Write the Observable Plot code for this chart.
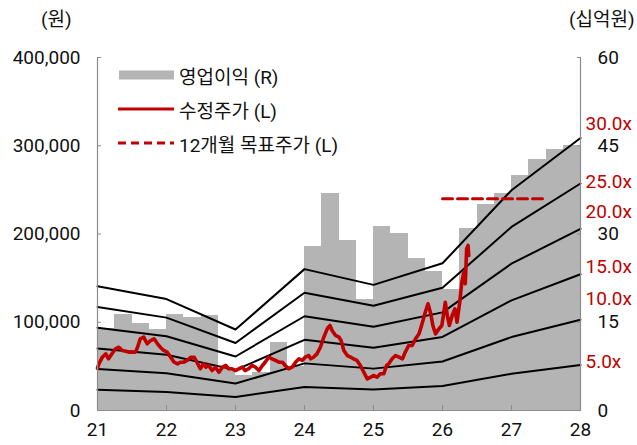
<!DOCTYPE html>
<html>
<head>
<meta charset="utf-8">
<script src="https://cdn.jsdelivr.net/npm/d3@7"></script>
<script src="https://cdn.jsdelivr.net/npm/@observablehq/plot@0.6"></script>
<style>
  body { margin: 0; background: #fff; }
  #chart { position: relative; width: 637px; height: 445px; font-family: Roboto, "Noto Sans CJK KR", sans-serif; color: #111; }
  #chart svg.plot { position: absolute; left: 0; top: 0; }
  .unit { position: absolute; top: 8px; font-size: 19px; line-height: 24px; }
  .legend { position: absolute; left: 118px; top: 58px; font-size: 19px; }
  .legend .row { display: flex; align-items: center; height: 34px; }
  .legend svg { width: 57px; height: 12px; margin-right: 4px; }
</style>
</head>
<body>
<div id="chart">
  <div class="unit" style="left:41px">(원)</div>
  <div class="unit" style="left:569px">(십억원)</div>
  <div class="legend">
    <div class="row"><svg><rect x="1" y="1.5" width="55" height="9" fill="#b4b4b4"/></svg>영업이익 (R)</div>
    <div class="row"><svg><line x1="0" x2="56" y1="6" y2="6" stroke="#c00000" stroke-width="3"/></svg>수정주가 (L)</div>
    <div class="row"><svg><line x1="0" x2="56" y1="6" y2="6" stroke="#c00000" stroke-width="3" stroke-dasharray="8,5"/></svg>12개월 목표주가 (L)</div>
  </div>
</div>
<script>
// Year ticks on the x axis (20xx)
const years = [21, 22, 23, 24, 25, 26, 27, 28];
// EPS (원) behind the PER band lines, one value per year
const eps = [4690, 4210, 3060, 5340, 4745, 5560, 8320, 10290];
const multiples = [5, 10, 15, 20, 25, 30];
const multipleLabels = ["5.0x", "10.0x", "15.0x", "20.0x", "25.0x", "30.0x"];

// Quarterly operating profit (십억원), 1Q21 ... 4Q27
const opProfit = [14.0, 16.3, 14.8, 13.7, 16.4, 15.8, 16.1, 7.0,
                  6.0, 6.5, 11.5, 7.5, 27.8, 36.8, 28.9, 18.8,
                  31.2, 30.1, 25.8, 23.7, 20.5, 30.9, 35.0, 36.9,
                  39.9, 42.6, 44.3, 45.0];

// Adjusted share price (원)
const priceYear = [21.00,21.02,21.07,21.12,21.16,21.21,21.26,21.31,21.36,21.41,
  21.45,21.50,21.55,21.58,21.62,21.67,21.72,21.77,21.82,21.87,
  21.91,21.96,22.01,22.06,22.11,22.16,22.20,22.25,22.30,22.35,
  22.40,22.44,22.49,22.54,
  22.57,22.61,22.66,22.71,22.76,22.81,22.86,22.90,22.95,23.00,
  23.05,23.10,23.14,23.19,23.24,23.29,23.34,23.39,23.43,23.48,
  23.53,23.58,23.63,23.68,23.72,23.77,23.82,23.87,23.92,23.97,
  24.01,24.06,
  24.09,24.13,24.18,24.23,24.28,24.33,24.37,24.40,24.45,24.50,
  24.53,24.57,24.62,24.67,24.71,24.76,24.81,24.86,24.91,24.96,
  25.00,25.05,25.10,25.15,25.19,25.22,25.27,25.32,25.37,25.42,
  25.46,25.51,
  25.56,25.61,25.66,25.71,25.75,25.79,25.83,25.86,25.90,25.95,
  25.99,26.02,26.04,26.07,26.10,26.14,26.18,26.21,26.25,26.28,
  26.31,26.33,26.35,26.37,26.38];
const price = [48000,52900,60400,64200,58600,64200,69900,71700,68000,67200,
  66100,66100,66100,71700,81200,83100,75600,79300,81200,75600,
  71700,68000,66100,60400,54700,52900,54700,54700,56700,60400,
  60400,54700,47300,52900,
  49100,51000,45300,49100,43400,49100,51000,47300,47300,45300,
  47300,49100,45300,47300,51000,49100,45300,51000,54700,60400,
  58600,56700,54700,54700,51000,47300,49100,54700,58600,56700,
  60400,62300,
  58600,60400,64200,71700,83100,92600,96300,90600,85000,83100,
  79300,68000,62300,60400,58600,56700,51000,43400,35900,37700,
  39700,37700,41600,41600,51000,52900,58600,62300,60400,58600,
  66100,73700,
  73700,81200,86900,100100,111400,120900,109600,96300,86900,92600,
  96300,111400,122700,107600,96300,107600,115200,100100,122700,145400,
  156700,143600,183200,187000,175600];

// 12-month target price (원)
const targetYears = [26.0, 27.46];
const targetPrice = 240000;

const leftTicks = [0, 100000, 200000, 300000, 400000];
const rightTicks = [0, 15, 30, 45, 60];

// right axis (십억원) shares the left scale through this ratio
const k = 400000 / 60;
const red = "#c00000";
const axisGray = "#8c8c8c";

const bars = opProfit.map((v, i) => ({x1: 21 + i * 0.25, x2: 21 + (i + 1) * 0.25, y: v * k}));
const bands = multiples.flatMap(m => years.map((yr, i) => ({x: yr, y: eps[i] * m, m})));
const priceData = priceYear.map((x, i) => ({x, y: price[i]}));
const targetData = targetYears.map(x => ({x, y: targetPrice}));
// label anchors for the multiples, on the left (원) scale
const labelAt = [54700, 126600, 162400, 224700, 258700, 324500];
const bandLabels = multipleLabels.map((t, i) => ({t, y: labelAt[i]}));

const chart = Plot.plot({
  width: 637,
  height: 445,
  marginLeft: 97,
  marginRight: 57,
  marginTop: 57,
  marginBottom: 35,
  style: {fontFamily: 'Roboto, "Noto Sans CJK KR", sans-serif', fontSize: "19px", color: "#111", background: "transparent"},
  x: {domain: [21, 28]},
  y: {domain: [0, 400000]},
  marks: [
    Plot.rect(bars, {x1: "x1", x2: "x2", y1: 0, y2: "y", fill: "#b4b4b4", shapeRendering: "crispEdges"}),
    Plot.line(bands, {x: "x", y: "y", z: "m", stroke: "#000", strokeWidth: 2}),
    Plot.line(priceData, {x: "x", y: "y", stroke: red, strokeWidth: 3.6, strokeLinejoin: "round"}),
    Plot.line(targetData, {x: "x", y: "y", stroke: red, strokeWidth: 3, strokeDasharray: "10,5"}),
    Plot.ruleX([21, 28], {stroke: axisGray, strokeWidth: 1.2}),
    Plot.ruleY([0], {stroke: axisGray, strokeWidth: 1.2}),
    Plot.axisY(leftTicks, {anchor: "left", tickSize: -4, tickPadding: 21, stroke: axisGray, tickFormat: d3.format(","), label: null}),
    Plot.axisY(rightTicks.map(v => v * k), {anchor: "right", tickSize: -4, tickPadding: 21, stroke: axisGray, tickFormat: d => String(Math.round(d / k)), textAnchor: "start", label: null}),
    Plot.axisX(years, {anchor: "bottom", tickSize: -5, tickPadding: 17, stroke: axisGray, tickFormat: d => String(d), label: null}),
    Plot.text(bandLabels, {x: 28, y: "y", text: "t", dx: 5, textAnchor: "start", fill: red})
  ]
});
chart.classList.add("plot");
document.getElementById("chart").prepend(chart);
</script>
</body>
</html>
